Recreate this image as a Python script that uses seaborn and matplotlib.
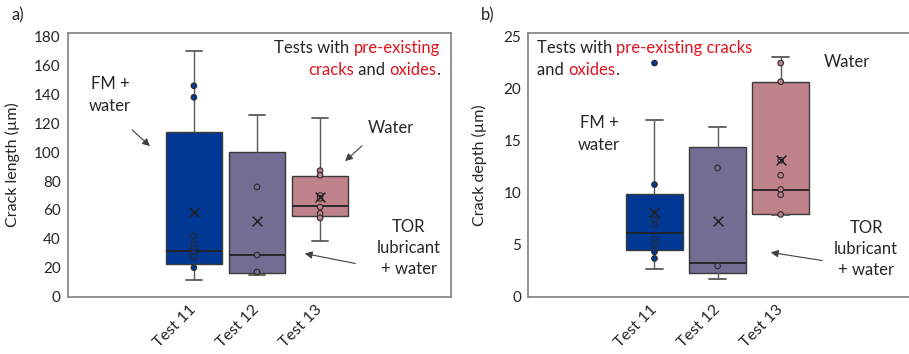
import numpy as np
import pandas as pd
import matplotlib
matplotlib.use("Agg")
import matplotlib.pyplot as plt
import seaborn as sns

# ---------------- data ----------------
tests = ["Test 11", "Test 12", "Test 13"]
colors = ["#013893", "#736c93", "#c0838b"]

# Panel a: crack length (µm) -- box statistics
len_whislo = [11.6, 15.2, 38.7]
len_q1 = [22.6, 16.2, 56.0]
len_med = [31.4, 28.8, 62.7]
len_q3 = [113.7, 100.3, 83.7]
len_whishi = [170.0, 125.5, 123.8]
len_mean = [58.6, 52.4, 68.8]
len_pts_11 = [145.9, 137.9, 41.8, 36.5, 33.7, 30.7, 27.7, 20.1]
len_pts_12 = [75.9, 28.8, 17.1]
len_pts_13 = [87.2, 84.0, 70.0, 68.0, 62.0, 57.6, 54.5]

# Panel b: crack depth (µm)
dep_whislo = [2.7, 1.72, 7.81]
dep_q1 = [4.46, 2.29, 7.91]
dep_med = [6.15, 3.19, 10.27]
dep_q3 = [9.89, 14.34, 20.65]
dep_whishi = [17.0, 16.29, 23.04]
dep_mean = [8.16, 7.27, 13.1]
dep_pts_11 = [22.44, 10.77, 7.4, 6.95, 5.49, 5.04, 4.3, 3.67]
dep_pts_12 = [12.37, 2.96]
dep_pts_13 = [22.44, 20.65, 13.1, 11.66, 10.3, 9.79, 7.9]

# ---------------- style ----------------
sns.set_theme(style="white")
plt.rcParams["font.family"] = ["Lato", "DejaVu Sans"]
TXT = "#262626"
RED = "#e0141e"

W, H = 909, 354
fig = plt.figure(figsize=(W / 100, H / 100), dpi=100)


def px_box(left, right, top, bottom):
    return [left / W, 1 - bottom / H, (right - left) / W, (bottom - top) / H]


ax_a = fig.add_axes(px_box(67.7, 450.7, 33.3, 296.7))
ax_b = fig.add_axes(px_box(528.3, 911.3, 33.3, 296.7))


def draw_panel(ax, whislo, q1, med, q3, whishi, means, pts, ylim, yticks, ylabel, labx):
    # five-number data: with whis=inf seaborn reproduces exactly these box stats
    rows = []
    for t, a, b, c, d, e in zip(tests, whislo, q1, med, q3, whishi):
        for v in (a, b, c, d, e):
            rows.append((t, v))
    df = pd.DataFrame(rows, columns=["test", "value"])
    sns.boxplot(data=df, x="test", y="value", hue="test", order=tests,
                hue_order=tests, palette=colors, whis=np.inf, width=0.9,
                linewidth=1.0, linecolor="#3a3a3a", saturation=1, legend=False,
                whiskerprops=dict(color="#595959", linewidth=1.0),
                capprops=dict(color="#595959", linewidth=1.3),
                medianprops=dict(color="#222222", linewidth=1.3),
                ax=ax)
    for cont in ax.containers:
        for cap in getattr(cont, "caps", []):
            x = cap.get_xdata()
            c = (x[0] + x[1]) / 2
            cap.set_xdata([c - 0.13, c + 0.13])

    prow = []
    for t, vals in zip(tests, pts):
        for v in vals:
            prow.append((t, v))
    pdf = pd.DataFrame(prow, columns=["test", "value"])
    sns.stripplot(data=pdf, x="test", y="value", hue="test", order=tests,
                  hue_order=tests, palette=colors, jitter=False, size=4,
                  edgecolor="#2a2a2a", linewidth=0.8, legend=False, ax=ax,
                  zorder=4)
    mdf = pd.DataFrame({"test": tests, "value": means})
    sns.stripplot(data=mdf, x="test", y="value", order=tests, color="#222222",
                  marker="x", size=7, linewidth=1.1, jitter=False, ax=ax,
                  zorder=5)

    ax.set_xlim(-2.0, 4.07)
    ax.set_ylim(*ylim)
    ax.set_yticks(yticks)
    ax.set_yticklabels([str(v) for v in yticks])
    ax.set_xlabel("")
    ax.set_ylabel(ylabel, fontsize=11.5, color=TXT)
    ax.yaxis.set_label_coords(labx, 0.5)
    ax.tick_params(axis="y", length=0, pad=5, labelsize=11, labelcolor=TXT)
    ax.tick_params(axis="x", length=0, pad=8, labelsize=11.5, labelcolor=TXT)
    for lab in ax.get_xticklabels():
        lab.set_rotation(45)
        lab.set_ha("right")
        lab.set_va("center")
        lab.set_rotation_mode("anchor")
    for sp in ax.spines.values():
        sp.set_color("#808080")
        sp.set_linewidth(1.2)
        sp.set_visible(True)


draw_panel(ax_a, len_whislo, len_q1, len_med, len_q3, len_whishi, len_mean,
           [len_pts_11, len_pts_12, len_pts_13], (0, 182.2),
           [0, 20, 40, 60, 80, 100, 120, 140, 160, 180], "Crack length (µm)", -0.1245)
draw_panel(ax_b, dep_whislo, dep_q1, dep_med, dep_q3, dep_whishi, dep_mean,
           [dep_pts_11, dep_pts_12, dep_pts_13], (0, 25.3),
           [0, 5, 10, 15, 20, 25], "Crack depth (µm)", -0.108)

# ---------------- annotations (figure pixel coordinates, y from top) ----------------
FS = 12


def ftxt(x, y, s, **kw):
    kw.setdefault("fontsize", FS)
    kw.setdefault("color", TXT)
    return fig.text(x / W, 1 - y / H, s, **kw)


def arrow(x0, y0, x1, y1):
    fig.add_artist(matplotlib.patches.FancyArrowPatch(
        (x0 / W, 1 - y0 / H), (x1 / W, 1 - y1 / H), transform=fig.transFigure,
        arrowstyle="-|>", mutation_scale=11, color="#404040", lw=0.8))


renderer = fig.canvas.get_renderer()


def segline(x, y, segs, align="left"):
    widths = []
    for s, c in segs:
        t = fig.text(0, 0, s, fontsize=FS)
        widths.append(t.get_window_extent(renderer).width)
        t.remove()
    total = sum(widths)
    start = x - total if align == "right" else x
    for (s, c), w in zip(segs, widths):
        ftxt(start, y, s, color=c, ha="left", va="center")
        start += w


# panel a
segline(440, 48, [("Tests with ", TXT), ("pre-existing", RED)], "right")
segline(440, 70, [("cracks", RED), (" and ", TXT), ("oxides", RED), (".", TXT)], "right")
ftxt(110, 95, "FM +\nwater", ha="center", va="center", linespacing=1.4)
arrow(130, 128, 152, 148)
ftxt(391, 128, "Water", ha="center", va="center")
arrow(364, 144, 343, 163)
ftxt(409, 248, "TOR\nlubricant\n+ water", ha="center", va="center", linespacing=1.4)
arrow(358, 264, 302, 253)
ftxt(12, 15, "a)", ha="left", va="center")

# panel b
segline(537, 48, [("Tests with ", TXT), ("pre-existing cracks", RED)], "left")
segline(537, 70, [("and ", TXT), ("oxides", RED), (".", TXT)], "left")
ftxt(599, 134, "FM +\nwater", ha="center", va="center", linespacing=1.4)
ftxt(847, 62, "Water", ha="center", va="center")
ftxt(866, 249, "TOR\nlubricant\n+ water", ha="center", va="center", linespacing=1.4)
arrow(825, 261, 768, 252)
ftxt(481, 15, "b)", ha="left", va="center")

fig.savefig("out.png", dpi=100)
